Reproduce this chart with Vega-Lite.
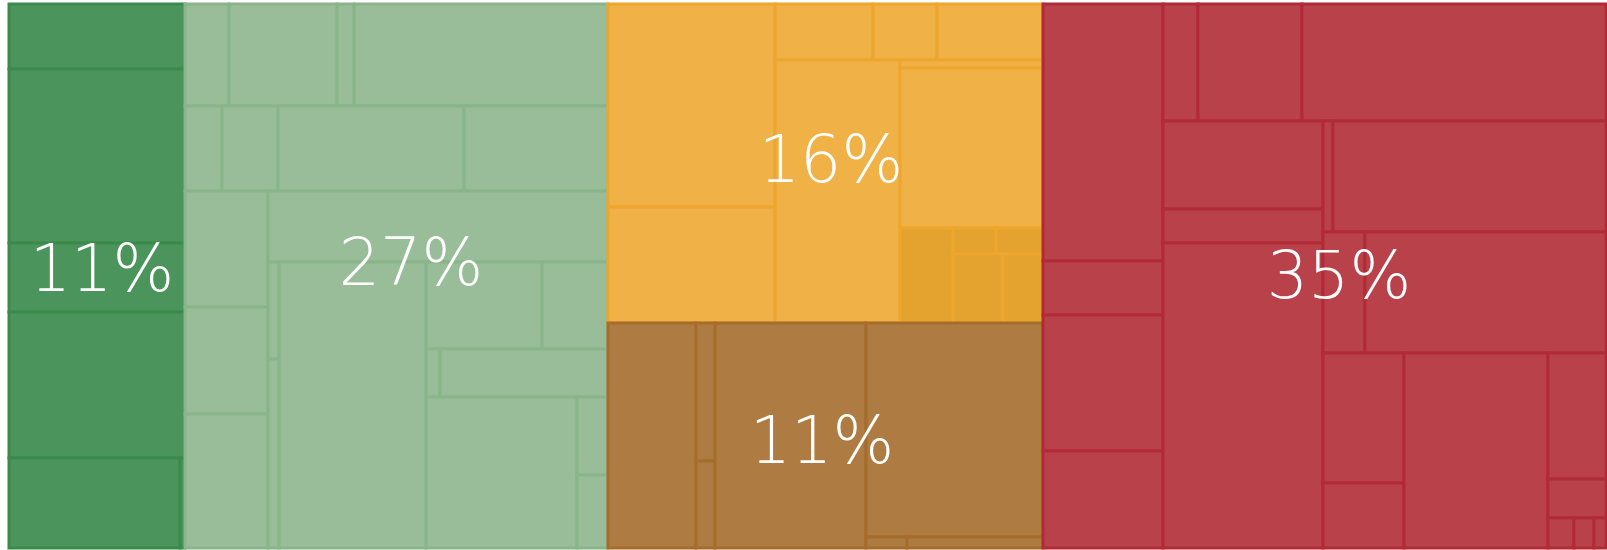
{
  "$schema": "https://vega.github.io/schema/vega-lite/v6.json",
  "width": 1607,
  "height": 550,
  "autosize": {"type": "none"},
  "padding": 0,
  "background": "#ffffff",
  "config": {"view": {"stroke": null}},
  "datasets": {
    "cells": [
      {"g": "A", "cat": "A", "x0": 9, "x1": 185, "y0": 4, "y1": 69},
      {"g": "A", "cat": "A", "x0": 9, "x1": 185, "y0": 69, "y1": 243},
      {"g": "A", "cat": "A", "x0": 9, "x1": 185, "y0": 243, "y1": 312},
      {"g": "A", "cat": "A", "x0": 9, "x1": 185, "y0": 312, "y1": 458},
      {"g": "A", "cat": "A", "x0": 9, "x1": 180, "y0": 458, "y1": 548},
      {"g": "A", "cat": "A", "x0": 180, "x1": 185, "y0": 458, "y1": 548},
      {"g": "B", "cat": "B", "x0": 185, "x1": 229, "y0": 4, "y1": 106},
      {"g": "B", "cat": "B", "x0": 229, "x1": 337, "y0": 4, "y1": 106},
      {"g": "B", "cat": "B", "x0": 337, "x1": 354, "y0": 4, "y1": 106},
      {"g": "B", "cat": "B", "x0": 354, "x1": 608, "y0": 4, "y1": 106},
      {"g": "B", "cat": "B", "x0": 185, "x1": 222, "y0": 106, "y1": 191},
      {"g": "B", "cat": "B", "x0": 222, "x1": 278, "y0": 106, "y1": 191},
      {"g": "B", "cat": "B", "x0": 278, "x1": 464, "y0": 106, "y1": 191},
      {"g": "B", "cat": "B", "x0": 464, "x1": 608, "y0": 106, "y1": 191},
      {"g": "B", "cat": "B", "x0": 185, "x1": 268, "y0": 191, "y1": 307},
      {"g": "B", "cat": "B", "x0": 185, "x1": 268, "y0": 307, "y1": 414},
      {"g": "B", "cat": "B", "x0": 185, "x1": 268, "y0": 414, "y1": 548},
      {"g": "B", "cat": "B", "x0": 268, "x1": 608, "y0": 191, "y1": 262},
      {"g": "B", "cat": "B", "x0": 268, "x1": 279, "y0": 262, "y1": 359},
      {"g": "B", "cat": "B", "x0": 268, "x1": 279, "y0": 359, "y1": 548},
      {"g": "B", "cat": "B", "x0": 279, "x1": 426, "y0": 262, "y1": 548},
      {"g": "B", "cat": "B", "x0": 426, "x1": 542, "y0": 262, "y1": 349},
      {"g": "B", "cat": "B", "x0": 542, "x1": 608, "y0": 262, "y1": 349},
      {"g": "B", "cat": "B", "x0": 426, "x1": 440, "y0": 349, "y1": 397},
      {"g": "B", "cat": "B", "x0": 440, "x1": 608, "y0": 349, "y1": 397},
      {"g": "B", "cat": "B", "x0": 426, "x1": 577, "y0": 397, "y1": 548},
      {"g": "B", "cat": "B", "x0": 577, "x1": 608, "y0": 397, "y1": 475},
      {"g": "B", "cat": "B", "x0": 577, "x1": 608, "y0": 475, "y1": 548},
      {"g": "C", "cat": "C", "x0": 608, "x1": 775, "y0": 4, "y1": 207},
      {"g": "C", "cat": "C", "x0": 608, "x1": 775, "y0": 207, "y1": 323},
      {"g": "C", "cat": "C", "x0": 775, "x1": 873, "y0": 4, "y1": 60},
      {"g": "C", "cat": "C", "x0": 873, "x1": 937, "y0": 4, "y1": 60},
      {"g": "C", "cat": "C", "x0": 937, "x1": 1043, "y0": 4, "y1": 60},
      {"g": "C", "cat": "C", "x0": 900, "x1": 1043, "y0": 60, "y1": 68},
      {"g": "C", "cat": "C", "x0": 775, "x1": 900, "y0": 60, "y1": 323},
      {"g": "C", "cat": "C", "x0": 900, "x1": 1043, "y0": 68, "y1": 228},
      {"g": "C", "cat": "C2", "x0": 900, "x1": 953, "y0": 228, "y1": 323},
      {"g": "C", "cat": "C2", "x0": 953, "x1": 996, "y0": 228, "y1": 254},
      {"g": "C", "cat": "C2", "x0": 996, "x1": 1043, "y0": 228, "y1": 254},
      {"g": "C", "cat": "C2", "x0": 953, "x1": 1003, "y0": 254, "y1": 323},
      {"g": "C", "cat": "C2", "x0": 1003, "x1": 1043, "y0": 254, "y1": 323},
      {"g": "D", "cat": "D", "x0": 608, "x1": 696, "y0": 323, "y1": 548},
      {"g": "D", "cat": "D", "x0": 696, "x1": 715, "y0": 323, "y1": 461},
      {"g": "D", "cat": "D", "x0": 696, "x1": 715, "y0": 461, "y1": 548},
      {"g": "D", "cat": "D", "x0": 715, "x1": 866, "y0": 323, "y1": 548},
      {"g": "D", "cat": "D", "x0": 866, "x1": 1043, "y0": 323, "y1": 537},
      {"g": "D", "cat": "D", "x0": 866, "x1": 907, "y0": 537, "y1": 548},
      {"g": "D", "cat": "D", "x0": 907, "x1": 1043, "y0": 537, "y1": 548},
      {"g": "E", "cat": "E", "x0": 1043, "x1": 1163, "y0": 4, "y1": 261},
      {"g": "E", "cat": "E", "x0": 1043, "x1": 1163, "y0": 261, "y1": 315},
      {"g": "E", "cat": "E", "x0": 1043, "x1": 1163, "y0": 315, "y1": 451},
      {"g": "E", "cat": "E", "x0": 1043, "x1": 1163, "y0": 451, "y1": 548},
      {"g": "E", "cat": "E", "x0": 1163, "x1": 1198, "y0": 4, "y1": 121},
      {"g": "E", "cat": "E", "x0": 1198, "x1": 1302, "y0": 4, "y1": 121},
      {"g": "E", "cat": "E", "x0": 1302, "x1": 1606, "y0": 4, "y1": 121},
      {"g": "E", "cat": "E", "x0": 1163, "x1": 1323, "y0": 121, "y1": 209},
      {"g": "E", "cat": "E", "x0": 1163, "x1": 1323, "y0": 209, "y1": 243},
      {"g": "E", "cat": "E", "x0": 1163, "x1": 1323, "y0": 243, "y1": 548},
      {"g": "E", "cat": "E", "x0": 1323, "x1": 1333, "y0": 121, "y1": 232},
      {"g": "E", "cat": "E", "x0": 1333, "x1": 1606, "y0": 121, "y1": 232},
      {"g": "E", "cat": "E", "x0": 1323, "x1": 1365, "y0": 232, "y1": 353},
      {"g": "E", "cat": "E", "x0": 1365, "x1": 1606, "y0": 232, "y1": 353},
      {"g": "E", "cat": "E", "x0": 1323, "x1": 1404, "y0": 353, "y1": 483},
      {"g": "E", "cat": "E", "x0": 1323, "x1": 1404, "y0": 483, "y1": 548},
      {"g": "E", "cat": "E", "x0": 1404, "x1": 1548, "y0": 353, "y1": 548},
      {"g": "E", "cat": "E", "x0": 1548, "x1": 1606, "y0": 353, "y1": 479},
      {"g": "E", "cat": "E", "x0": 1548, "x1": 1606, "y0": 479, "y1": 518},
      {"g": "E", "cat": "E", "x0": 1548, "x1": 1574, "y0": 518, "y1": 548},
      {"g": "E", "cat": "E", "x0": 1574, "x1": 1594, "y0": 518, "y1": 548},
      {"g": "E", "cat": "E", "x0": 1594, "x1": 1606, "y0": 518, "y1": 548}
    ],
    "groups": [
      {"g": "A", "label": "11%", "lx": 102, "ly": 291},
      {"g": "B", "label": "27%", "lx": 411, "ly": 285},
      {"g": "C", "label": "16%", "lx": 831, "ly": 182},
      {"g": "D", "label": "11%", "lx": 822, "ly": 463},
      {"g": "E", "label": "35%", "lx": 1339, "ly": 298}
    ]
  },
  "layer": [
    {
      "data": {"name": "cells"},
      "mark": {"type": "rect", "strokeWidth": 3, "opacity": 1, "fillOpacity": 1},
      "encoding": {
        "x": {"field": "x0", "type": "quantitative", "axis": null, "scale": {"domain": [0, 1607], "nice": false, "zero": false}},
        "x2": {"field": "x1"},
        "y": {"field": "y0", "type": "quantitative", "axis": null, "scale": {"domain": [0, 550], "nice": false, "zero": false, "reverse": true}},
        "y2": {"field": "y1"},
        "fill": {"field": "cat", "type": "nominal", "legend": null, "scale": {"domain": ["A", "B", "C", "C2", "D", "E"], "range": ["#4b945b", "#98bd98", "#f0b146", "#e4a22e", "#ae7c42", "#b9414a"]}},
        "stroke": {"field": "g", "type": "nominal", "legend": null, "scale": {"domain": ["A", "B", "C", "D", "E"], "range": ["#3a8b4b", "#8ab58a", "#eea62f", "#a56d2c", "#b22a36"]}}
      }
    },
    {
      "data": {"name": "groups"},
      "mark": {"type": "text", "font": "DejaVu Sans", "fontWeight": 200, "fontSize": 65, "fill": "#ffffff", "align": "center", "baseline": "alphabetic"},
      "encoding": {
        "x": {"field": "lx", "type": "quantitative"},
        "y": {"field": "ly", "type": "quantitative"},
        "text": {"field": "label"}
      }
    }
  ]
}
